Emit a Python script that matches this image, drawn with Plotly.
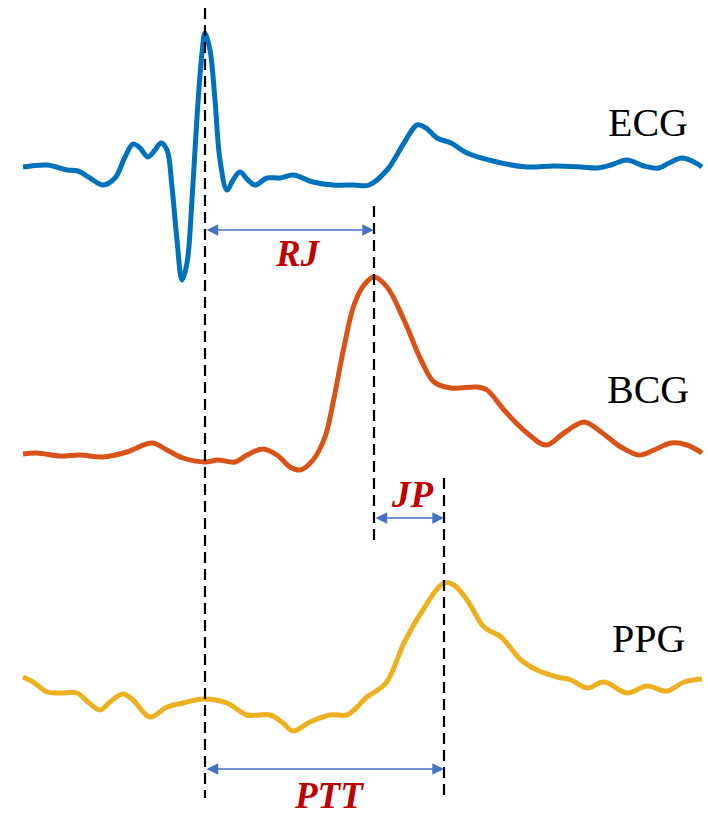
import numpy as np
import plotly.graph_objects as go

# ---- data (time in px-units, vertical position of the trace) ----
ecg_t = [23, 47, 67, 78, 90, 103, 115, 125, 133, 140, 148, 155, 161, 167, 172, 177, 182, 187, 192, 197,
         202, 205, 210, 215, 220, 227, 233, 240, 248, 255, 267, 280, 293, 313, 333, 354, 369, 387, 404,
         417, 426, 437, 451, 467, 497, 527, 554, 581, 597, 611, 627, 644, 659, 669, 682, 694, 702]
ecg_y = [167, 165, 170, 171, 178, 185, 178, 157, 144, 148, 157, 150, 143, 150, 187, 240, 280, 263, 200, 117,
         53, 33, 50, 100, 160, 190, 180, 172, 180, 185, 178, 178, 175, 182, 185, 185, 185, 170, 143,
         125, 128, 138, 143, 153, 162, 167, 166, 167, 168, 165, 160, 166, 168, 163, 158, 162, 167]

bcg_t = [23, 37, 60, 80, 103, 127, 152, 167, 183, 205, 218, 235, 247, 263, 277, 290, 300, 313, 325, 333,
         343, 354, 364, 374, 387, 404, 421, 434, 451, 477, 487, 504, 527, 546, 564, 584, 601, 621, 639,
         654, 671, 687, 702]
bcg_y = [454, 453, 456, 455, 457, 452, 443, 450, 458, 462, 460, 462, 455, 449, 455, 467, 470, 460, 437, 403,
         352, 305, 285, 277, 287, 320, 360, 382, 388, 387, 390, 410, 433, 445, 433, 422, 432, 447, 455,
         450, 443, 445, 453]

ppg_t = [23, 33, 47, 60, 77, 88, 100, 110, 123, 133, 150, 167, 183, 203, 227, 247, 270, 283, 293, 310,
         330, 347, 354, 367, 386, 404, 421, 444, 454, 467, 484, 501, 521, 537, 557, 571, 587, 604, 627,
         647, 667, 684, 702]
ppg_y = [677, 682, 692, 693, 693, 702, 710, 702, 694, 700, 717, 707, 703, 699, 703, 715, 715, 723, 731, 722,
         715, 715, 710, 697, 683, 643, 613, 583, 585, 600, 627, 637, 660, 670, 677, 680, 688, 682, 693,
         686, 691, 682, 679]

signal_names = ["ECG", "BCG", "PPG"]
interval_labels = ["RJ", "JP", "PTT"]

COL = {"ECG": "#0072BD", "BCG": "#D95319", "PPG": "#EDB120"}

fig = go.Figure()
for name, t, y in [("ECG", ecg_t, ecg_y), ("BCG", bcg_t, bcg_y), ("PPG", ppg_t, ppg_y)]:
    fig.add_trace(go.Scatter(x=t, y=y, mode="lines", line=dict(color=COL[name], width=5, shape="spline",
                                                               smoothing=1.0),
                             hoverinfo="skip", showlegend=False))

# characteristic points from the data: R peak, J peak, P (PPG peak)
tR = ecg_t[int(np.argmin(ecg_y))]
tJ = bcg_t[int(np.argmin(bcg_y))]
tP = ppg_t[int(np.argmin(ppg_y))]

dash = dict(color="black", width=2.2, dash="11px,6px")
for tx, y0, y1 in [(tR, 8, 798), (tJ, 206, 540), (tP, 478, 798)]:
    fig.add_trace(go.Scatter(x=[tx, tx], y=[y0, y1], mode="lines", line=dash,
                             hoverinfo="skip", showlegend=False))

# double arrows
arrow_col = "#4472C4"
for (a, b, yy) in [(tR, tJ, 230), (tJ, tP, 518), (tR, tP, 769)]:
    fig.add_annotation(x=b, y=yy, ax=a, ay=yy, xref="x", yref="y", axref="x", ayref="y",
                       text="", showarrow=True, arrowhead=2, startarrowhead=2,
                       arrowside="end+start", arrowsize=1.8, startarrowsize=1.8,
                       arrowwidth=1.3, arrowcolor=arrow_col)

lab_font = dict(family="Liberation Serif, Times New Roman, serif", size=37, color="#C00000")
for lab, xm, yy in [("RJ", (tR + tJ) / 2 + 8, 253), ("JP", (tJ + tP) / 2 + 3, 494),
                    ("PTT", (tR + tP) / 2 + 4, 795)]:
    fig.add_annotation(x=xm, y=yy, xref="x", yref="y", text="<b><i>%s</i></b>" % lab,
                       showarrow=False, font=lab_font)

name_font = dict(family="Liberation Serif, Times New Roman, serif", size=40, color="black")
for name, yy in zip(signal_names, [122, 389, 638]):
    fig.add_annotation(x=648, y=yy, xref="x", yref="y", text=name, showarrow=False, font=name_font)

fig.update_layout(width=708, height=816, margin=dict(l=0, r=0, t=0, b=0),
                  paper_bgcolor="white", plot_bgcolor="white",
                  xaxis=dict(range=[0, 708], visible=False, fixedrange=True),
                  yaxis=dict(range=[816, 0], visible=False, fixedrange=True))
fig.write_html("out.html", config={"displayModeBar": False},
               post_script="document.body.style.margin='0';document.body.style.padding='0';")
